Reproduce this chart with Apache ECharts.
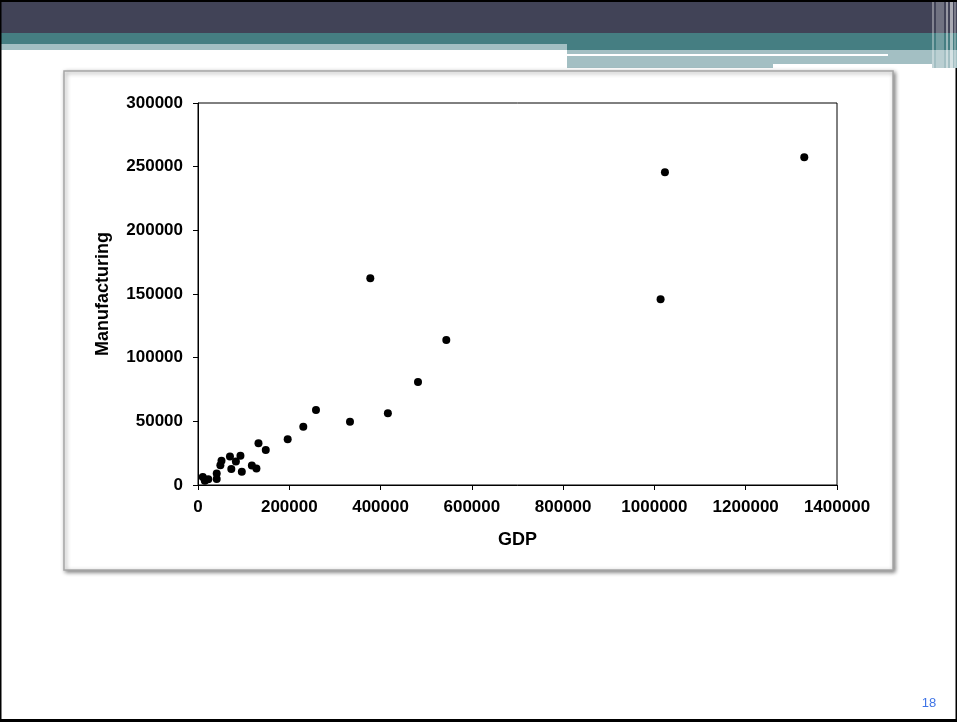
<!DOCTYPE html>
<html>
<head>
<meta charset="utf-8">
<script src="https://cdn.jsdelivr.net/npm/echarts@6/dist/echarts.min.js"></script>
<style>
html,body{margin:0;padding:0;background:#fff;}
#chart{width:957px;height:722px;}
</style>
</head>
<body>
<div id="chart"></div>
<script>
// Data (GDP, Manufacturing)
const gdp = [10500, 15000, 22500, 41000, 41000, 49000, 51500, 70000, 73000, 83000, 93000, 96000, 118000, 128000, 132500, 148500, 196500, 230700, 258500, 333000, 416000, 482000, 544000, 377500, 1013500, 1023000, 1328300];
const manufacturing = [6300, 3300, 4500, 9000, 4800, 15500, 19000, 22300, 12500, 18500, 23000, 10500, 15300, 13000, 32700, 27500, 35900, 45800, 58900, 49700, 56300, 80900, 113900, 162300, 145800, 245600, 257300];
const xTicks = [0, 200000, 400000, 600000, 800000, 1000000, 1200000, 1400000];
const yTicks = [0, 50000, 100000, 150000, 200000, 250000, 300000];
const xName = 'GDP';
const yName = 'Manufacturing';
const pageNumber = '18';

const points = gdp.map((g, i) => [g, manufacturing[i]]);
const font = '"Liberation Sans", Arial, sans-serif';
const plain = v => String(Math.round(v));

const chart = echarts.init(document.getElementById('chart'), null, {renderer: 'canvas'});
const W = 957, H = 722;

chart.setOption({
  animation: false,
  backgroundColor: '#ffffff',
  graphic: [
    // header bands
    {type: 'rect', z: -10, shape: {x: 0, y: 0, width: W, height: 34}, style: {fill: '#414357'}},
    {type: 'rect', z: -10, shape: {x: 0, y: 33, width: W, height: 11}, style: {fill: '#457E82'}},
    {type: 'rect', z: -10, shape: {x: 567, y: 44, width: W - 567, height: 6}, style: {fill: '#457E82'}},
    {type: 'rect', z: -10, shape: {x: 0, y: 44, width: 567, height: 6}, style: {fill: '#A3BFC3'}},
    {type: 'rect', z: -10, shape: {x: 567, y: 50, width: W - 567, height: 18}, style: {fill: '#A3BFC3'}},
    {type: 'rect', z: -9, shape: {x: 567, y: 54, width: 321, height: 2}, style: {fill: '#ffffff'}},
    {type: 'rect', z: -9, shape: {x: 773, y: 64, width: 159, height: 4}, style: {fill: '#ffffff'}},
    // right edge vertical stripes
    {type: 'rect', z: -8, shape: {x: 932, y: 2, width: 2, height: 66}, style: {fill: 'rgba(255,255,255,0.35)'}},
    {type: 'rect', z: -8, shape: {x: 936, y: 2, width: 8, height: 66}, style: {fill: 'rgba(255,255,255,0.25)'}},
    {type: 'rect', z: -8, shape: {x: 946, y: 2, width: 2, height: 66}, style: {fill: 'rgba(255,255,255,0.45)'}},
    {type: 'rect', z: -8, shape: {x: 950, y: 2, width: 3, height: 66}, style: {fill: 'rgba(255,255,255,0.55)'}},
    {type: 'rect', z: -8, shape: {x: 954, y: 2, width: 2, height: 66}, style: {fill: 'rgba(255,255,255,0.3)'}},
    // page borders
    {type: 'rect', z: 10, shape: {x: 0, y: 0, width: W, height: 2}, style: {fill: '#000'}},
    {type: 'rect', z: 10, shape: {x: 0, y: 719, width: W, height: 3}, style: {fill: '#000'}},
    {type: 'rect', z: 10, shape: {x: 0, y: 0, width: 1.5, height: H}, style: {fill: '#000'}},
    {type: 'rect', z: 10, shape: {x: 955.5, y: 68, width: 1.5, height: H - 68}, style: {fill: '#000'}},
    // chart frame with shadow
    {type: 'rect', z: -5, shape: {x: 64, y: 71, width: 829, height: 499},
      style: {fill: '#ffffff', stroke: '#a6a6a6', lineWidth: 1.5, shadowBlur: 4, shadowColor: 'rgba(0,0,0,0.45)', shadowOffsetX: 1.5, shadowOffsetY: 1.5}},
    // page number
    {type: 'text', z: 10, style: {x: 929, y: 703, text: pageNumber, fill: '#3F74E6', font: '13px ' + font, textAlign: 'center', textVerticalAlign: 'middle'}}
  ],
  grid: {
    left: 198, top: 103, width: 639, height: 382,
    show: true, borderColor: '#000', borderWidth: 1, backgroundColor: 'transparent',
    containLabel: false, outerBoundsMode: 'none'
  },
  xAxis: {
    type: 'value', min: xTicks[0], max: xTicks[xTicks.length - 1], interval: xTicks[1] - xTicks[0],
    name: xName, nameLocation: 'middle', nameGap: 46,
    nameTextStyle: {fontFamily: font, fontWeight: 'bold', fontSize: 18, color: '#000'},
    axisLine: {show: true, onZero: false, lineStyle: {color: '#000', width: 1}},
    axisTick: {show: true, inside: false, length: 5, lineStyle: {color: '#000'}},
    axisLabel: {margin: 14, fontFamily: font, fontWeight: 'bold', fontSize: 17, color: '#000', showMinLabel: true, showMaxLabel: true, formatter: plain},
    splitLine: {show: false}
  },
  yAxis: {
    type: 'value', min: yTicks[0], max: yTicks[yTicks.length - 1], interval: yTicks[1] - yTicks[0],
    name: yName, nameLocation: 'middle', nameGap: 86, nameRotate: 90,
    nameTextStyle: {fontFamily: font, fontWeight: 'bold', fontSize: 18, color: '#000'},
    axisLine: {show: true, onZero: false, lineStyle: {color: '#000', width: 1}},
    axisTick: {show: true, inside: false, length: 5, lineStyle: {color: '#000'}},
    axisLabel: {margin: 15, fontFamily: font, fontWeight: 'bold', fontSize: 17, color: '#000', formatter: plain},
    splitLine: {show: false}
  },
  series: [{
    type: 'scatter',
    data: points,
    symbol: 'circle',
    symbolSize: 8,
    itemStyle: {color: '#000', opacity: 1},
    emphasis: {disabled: true}
  }]
});
</script>
</body>
</html>
